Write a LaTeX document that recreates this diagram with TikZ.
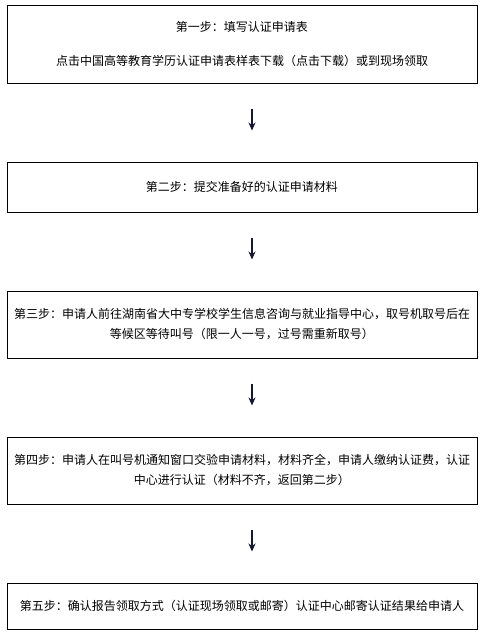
\documentclass[tikz,border=0pt]{standalone}
\usepackage{fontspec}
\setmainfont{Noto Sans CJK SC}
\usepackage{tikz}
\usetikzlibrary{positioning, arrows.meta}
\definecolor{figstepline}{HTML}{000000}
\definecolor{figflowdark}{HTML}{141830}

\begin{document}
\begin{tikzpicture}[
  font=\fontsize{12pt}{20pt}\selectfont,
  figstepbox/.style={
    rectangle, draw=figstepline, line width=1pt,
    minimum width=470pt, text width=460pt, align=center, inner sep=0pt,
  },
  figflow/.style={
    -{Stealth[length=8pt, width=7pt]}, line width=1.2pt, color=figflowdark,
    shorten <=25pt, shorten >=31pt,
  },
]
\useasboundingbox (0,0) rectangle (481pt,-632pt);
\node[figstepbox, minimum height=78pt] (figstepA) at (242pt,-44pt) {%
  第一步：填写认证申请表\\[14pt]
  点击中国高等教育学历认证申请表样表下载（点击下载）或到现场领取%
};
\node[figstepbox, minimum height=50pt, below=78pt of figstepA] (figstepB) {%
  第二步：提交准备好的认证申请材料%
};
\node[figstepbox, minimum height=67pt, below=78pt of figstepB] (figstepC) {%
  第三步：申请人前往湖南省大中专学校学生信息咨询与就业指导中心，取号机取号后在\\
  等候区等待叫号（限一人一号，过号需重新取号）%
};
\node[figstepbox, minimum height=67pt, below=78pt of figstepC] (figstepD) {%
  第四步：申请人在叫号机通知窗口交验申请材料，材料齐全，申请人缴纳认证费，认证\\
  中心进行认证（材料不齐，返回第二步）%
};
\node[figstepbox, minimum height=46pt, below=78pt of figstepD] (figstepE) {%
  第五步：确认报告领取方式（认证现场领取或邮寄）认证中心邮寄认证结果给申请人%
};
\draw[figflow] ([xshift=10pt]figstepA.south) -- ([xshift=10pt]figstepB.north);
\draw[figflow] ([xshift=10pt]figstepB.south) -- ([xshift=10pt]figstepC.north);
\draw[figflow] ([xshift=10pt]figstepC.south) -- ([xshift=10pt]figstepD.north);
\draw[figflow] ([xshift=10pt]figstepD.south) -- ([xshift=10pt]figstepE.north);
\end{tikzpicture}
\end{document}
